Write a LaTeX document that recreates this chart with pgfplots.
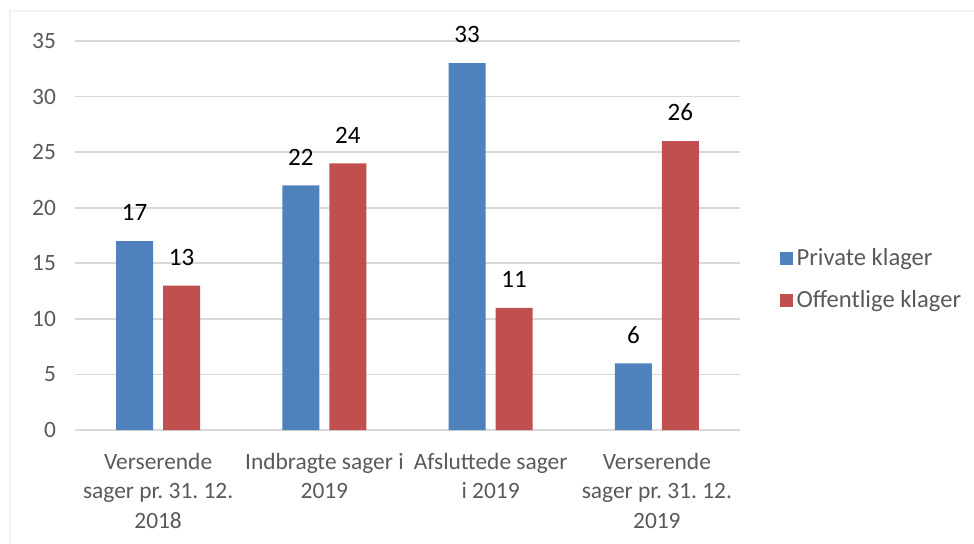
\documentclass[border=0pt]{standalone}
\usepackage{pgfplots}
\pgfplotsset{compat=1.18}
\usepackage{fontspec}
\setmainfont{Carlito}
\frenchspacing
\definecolor{bblue}{HTML}{4F81BD}
\definecolor{bred}{HTML}{C0504D}
\definecolor{tgray}{HTML}{595959}
\definecolor{ggray}{HTML}{D9D9D9}
\begin{document}
\begin{tikzpicture}
\path[use as bounding box] (-37.5pt,-56.5pt) rectangle (449.5pt,215pt);
\draw[color=gray!10, line width=0.6pt] (-32.5pt,-80pt) rectangle (470pt,209.5pt);
\begin{axis}[
  at={(0,0)}, anchor=south west,
  width=332.5pt, height=194.5pt, scale only axis,
  /pgf/number format/assume math mode=true,
  ybar=5pt, bar width=18.5pt,
  xmin=-0.5, xmax=3.5, ymin=0, ymax=35,
  xtick={0,1,2,3},
  xticklabels={{Verserende\\sager pr. 31. 12.\\2018},{Indbragte sager i\\2019},{Afsluttede sager\\i 2019},{Verserende\\sager pr. 31. 12.\\2019}},
  ytick={0,5,...,35},
  ymajorgrids, grid style={ggray, line width=0.8pt},
  axis x line*=bottom, axis y line*=left,
  x axis line style={ggray, line width=0.8pt},
  y axis line style={draw=none},
  major tick length=0pt,
  tick label style={font=\fontsize{11.7}{14.7}\selectfont, text=tgray},
  yticklabel style={xshift=-6pt},
  xticklabel style={align=center, yshift=-8pt},
  nodes near coords,
  every node near coord/.append style={font=\fontsize{12.5}{14}\selectfont, text=black, yshift=6.5pt},
  legend style={at={(1.05,0.387)}, anchor=west, draw=none, fill=none,
    font=\fontsize{12.3}{14}\selectfont, text=tgray, row sep=7pt},
  legend cell align=left,
  legend image code/.code={\fill[#1] (0pt,-3.25pt) rectangle (6.5pt,3.25pt);},
]
\addplot[fill=bblue, draw=none] coordinates {(0,17) (1,22) (2,33) (3,6)};
\addplot[fill=bred, draw=none] coordinates {(0,13) (1,24) (2,11) (3,26)};
\legend{Private klager, Offentlige klager}
\end{axis}
\end{tikzpicture}
\end{document}
